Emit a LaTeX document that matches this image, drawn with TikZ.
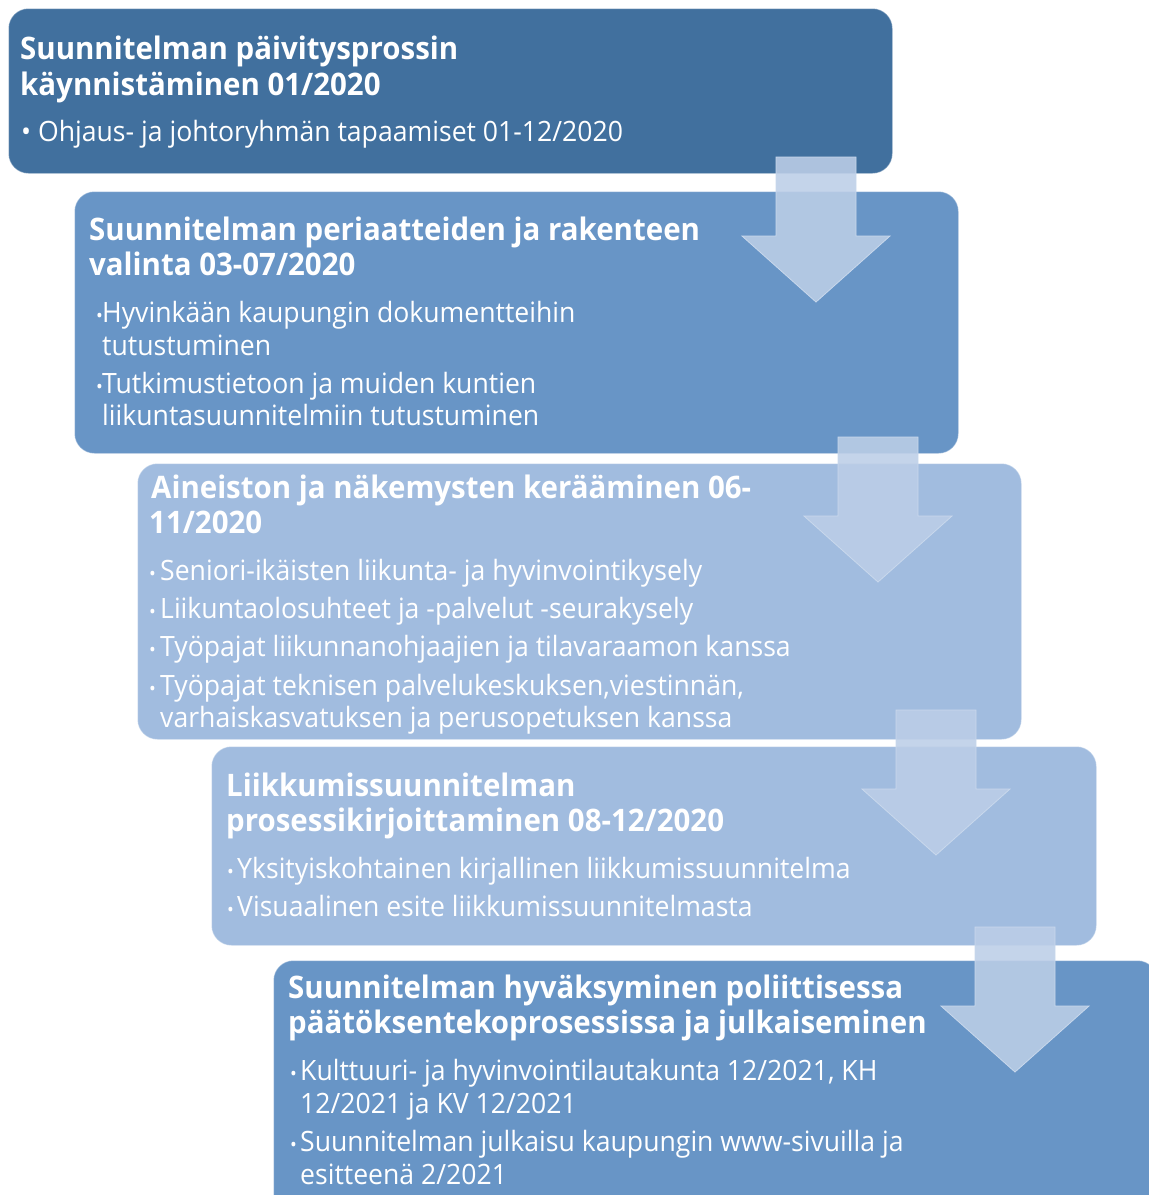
\documentclass[tikz,border=0pt]{standalone}
\usepackage{fontspec}
\setmainfont{Open Sans}
\newfontfamily\titlefont[FakeStretch=0.95]{Open Sans}
\newfontfamily\bodyfont[FakeStretch=0.95]{Open Sans}
\definecolor{deepblue}{HTML}{41709E}
\definecolor{midblue}{HTML}{6895C6}
\definecolor{paleblue}{HTML}{A1BCDF}
\definecolor{arrowblue}{HTML}{BCCEE7}
\definecolor{arrowedge}{HTML}{C9D8EC}
\tikzset{
  stage/.style={anchor=north west, inner sep=0pt, rounded corners=20pt,
    draw=white, draw opacity=0.35, line width=1pt},
  headline/.style={anchor=base west, inner sep=0pt, text=white,
    font=\titlefont\bfseries\fontsize{31}{35}\selectfont},
  itemline/.style={anchor=base west, inner sep=0pt, text=white,
    font=\bodyfont\fontsize{28}{32}\selectfont},
  dot/.style={anchor=base west, inner sep=0pt, text=white,
    font=\bodyfont\fontsize{19}{20}\selectfont},
  flow/.style={fill=arrowblue, fill opacity=0.88, draw=arrowedge, line width=0.8pt}
}
% block arrow: #1 = centre x, #2 = top of shaft
\newcommand\flowarrow[2]{%
  \path[flow] (#1-40,#2) -- (#1+40,#2) -- (#1+40,#2+79) -- (#1+74,#2+79)
    -- (#1,#2+145) -- (#1-74,#2+79) -- (#1-40,#2+79) -- cycle;}
\begin{document}
\begin{tikzpicture}[x=1pt,y=-1pt]
\useasboundingbox (0,0) rectangle (1149,1195);
\clip (0,0) rectangle (1149,1195);

% stage boxes
\node[stage, fill=deepblue, minimum width=884pt, minimum height=165pt] (s1) at (8,8) {};
\node[stage, fill=midblue,  minimum width=884pt, minimum height=262pt] (s2) at (74,191) {};
\node[stage, fill=paleblue, minimum width=884pt, minimum height=276pt] (s3) at (137,463) {};
\node[stage, fill=paleblue, minimum width=885pt, minimum height=199pt] (s4) at (211,746) {};
\node[stage, fill=midblue,  minimum width=884pt, minimum height=270pt] (s5) at (273,960) {};

% stage 1
\node[headline] (t1a) at (20,59) {Suunnitelman päivitysprossin};
\node[headline] (t1b) at (20,95) {käynnistäminen 01/2020};
\node[itemline] (b1a) at (21,141) {• Ohjaus- ja johtoryhmän tapaamiset 01-12/2020};

% stage 2
\node[headline] (t2a) at (89,240) {Suunnitelman periaatteiden ja rakenteen};
\node[headline] (t2b) at (89,275) {valinta 03-07/2020};
\node[dot] (d2a) at (96,322) {•};
\node[itemline] (b2a) at (102,322) {Hyvinkään kaupungin dokumentteihin};
\node[itemline] (b2b) at (102,355) {tutustuminen};
\node[dot] (d2b) at (96,393) {•};
\node[itemline] (b2c) at (102,393) {Tutkimustietoon ja muiden kuntien};
\node[itemline] (b2d) at (102,425) {liikuntasuunnitelmiin tutustuminen};

% stage 3
\node[headline] (t3a) at (151,498) {Aineiston ja näkemysten kerääminen 06-};
\node[headline] (t3b) at (149,533) {11/2020};
\node[dot] (d3a) at (149,580) {•};
\node[itemline] (b3a) at (160,580) {Seniori-ikäisten liikunta- ja hyvinvointikysely};
\node[dot] (d3b) at (149,618) {•};
\node[itemline] (b3b) at (160,618) {Liikuntaolosuhteet ja -palvelut -seurakysely};
\node[dot] (d3c) at (149,656) {•};
\node[itemline] (b3c) at (160,656) {Työpajat liikunnanohjaajien ja tilavaraamon kanssa};
\node[dot] (d3d) at (149,695) {•};
\node[itemline] (b3d) at (160,695) {Työpajat teknisen palvelukeskuksen,viestinnän,};
\node[itemline] (b3e) at (160,727) {varhaiskasvatuksen ja perusopetuksen kanssa};

% stage 4
\node[headline] (t4a) at (226,796) {Liikkumissuunnitelman};
\node[headline] (t4b) at (226,831) {prosessikirjoittaminen 08-12/2020};
\node[dot] (d4a) at (227,878) {•};
\node[itemline] (b4a) at (237,878) {Yksityiskohtainen kirjallinen liikkumissuunnitelma};
\node[dot] (d4b) at (227,916) {•};
\node[itemline] (b4b) at (237,916) {Visuaalinen esite liikkumissuunnitelmasta};

% stage 5
\node[headline] (t5a) at (288,998) {Suunnitelman hyväksyminen poliittisessa};
\node[headline] (t5b) at (288,1033) {päätöksentekoprosessissa ja julkaiseminen};
\node[dot] (d5a) at (290,1080) {•};
\node[itemline] (b5a) at (300,1080) {Kulttuuri- ja hyvinvointilautakunta 12/2021, KH};
\node[itemline] (b5b) at (300,1113) {12/2021 ja KV 12/2021};
\node[dot] (d5b) at (290,1151) {•};
\node[itemline] (b5c) at (300,1151) {Suunnitelman julkaisu kaupungin www-sivuilla ja};
\node[itemline] (b5d) at (300,1184) {esitteenä 2/2021};

% block arrows between stages
\flowarrow{816}{157}
\flowarrow{878}{437}
\flowarrow{936}{710}
\flowarrow{1015}{927}
\end{tikzpicture}
\end{document}
